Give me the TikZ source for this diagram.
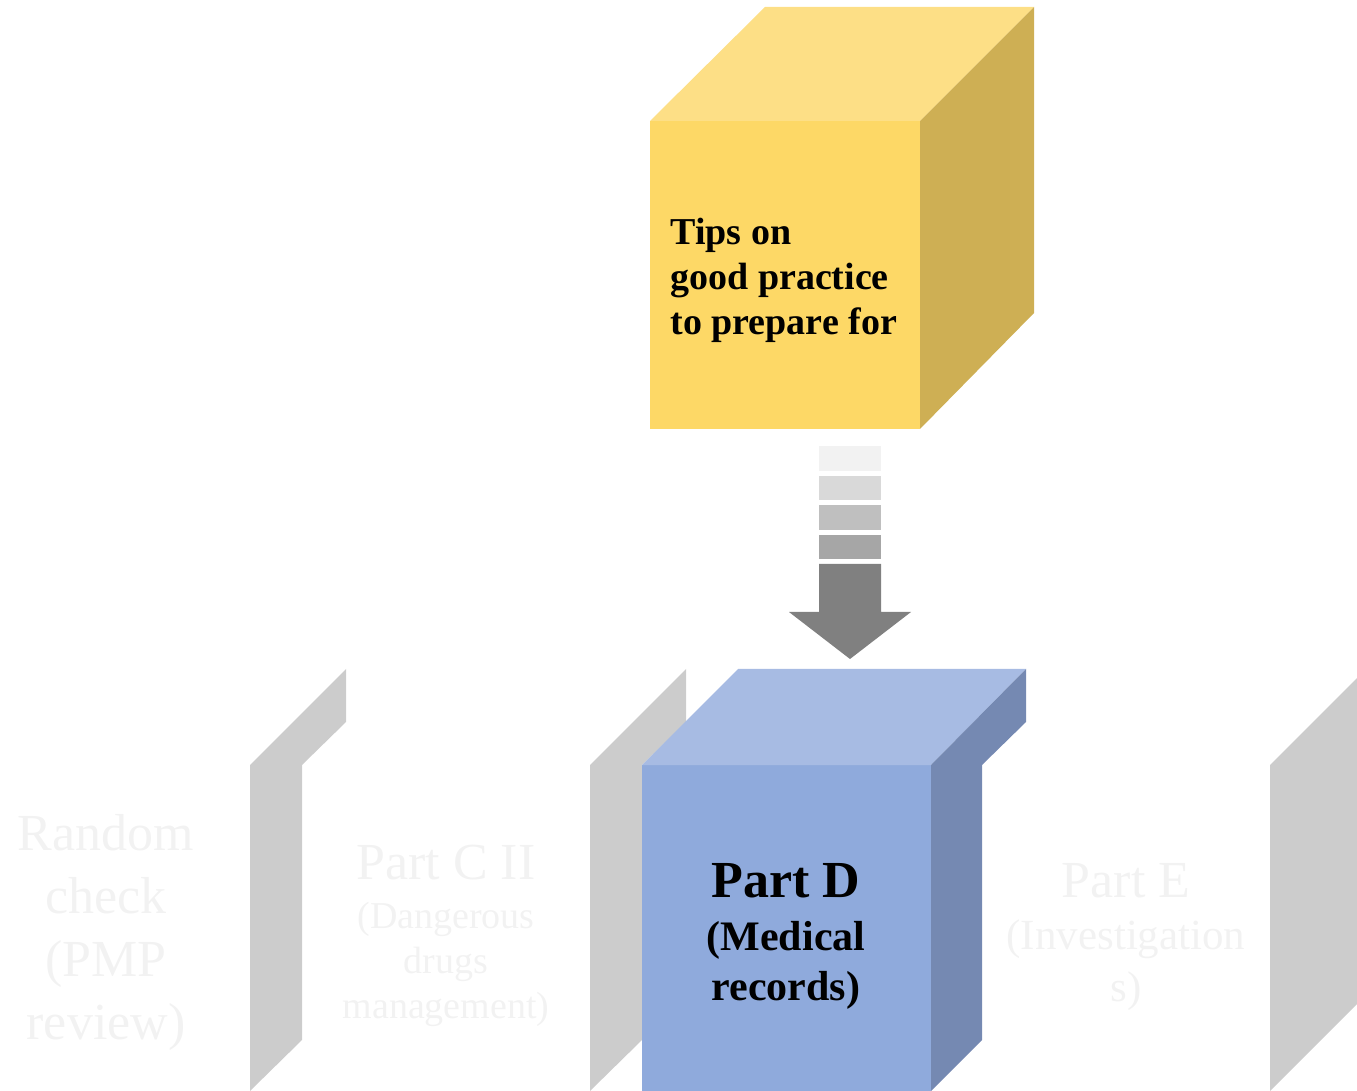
\documentclass[tikz,border=0pt]{standalone}
\usepackage{fontspec}
\setmainfont{Liberation Serif}
\definecolor{yFront}{HTML}{FDD866}
\definecolor{yTop}{HTML}{FDDF86}
\definecolor{ySide}{HTML}{CEAF54}
\definecolor{dFront}{HTML}{8FAADC}
\definecolor{dTop}{HTML}{A7BBE3}
\definecolor{dSide}{HTML}{7589B2}
\definecolor{sideGray}{HTML}{CCCCCC}
\definecolor{faintText}{HTML}{F2F2F2}
\definecolor{arrA}{HTML}{F2F2F2}
\definecolor{arrB}{HTML}{D9D9D9}
\definecolor{arrC}{HTML}{BFBFBF}
\definecolor{arrD}{HTML}{A6A6A6}
\definecolor{arrE}{HTML}{808080}
\begin{document}
\begin{tikzpicture}[x=0.5pt,y=-0.5pt,
  faint/.style={text=faintText, align=center, inner sep=0pt},
  boldtxt/.style={text=black, inner sep=0pt}]
\useasboundingbox (0,0) rectangle (1357,1091);
\clip (0,0) rectangle (1357,1091);
% gray side faces of faded cubes
\fill[sideGray] (250,765) -- (346,669) -- (346,722) -- (302,765) -- (302,1040) -- (250,1091) -- cycle;
\fill[sideGray] (590,765) -- (686,669) -- (686,722) -- (642,765) -- (642,1040) -- (590,1091) -- cycle;
\fill[sideGray] (1270,765) -- (1366,669) -- (1366,995) -- (1270,1091) -- cycle;
% Part D cube
\fill[dFront] (642,765) rectangle (931,1095);
\fill[dTop] (642,765) -- (738,669) -- (1026,669) -- (931,765) -- cycle;
\fill[dSide] (931,765) -- (1026,669) -- (1026,722) -- (982,765) -- (982,1040) -- (931,1091) -- cycle;
% Yellow cube
\fill[yFront] (650,121) rectangle (920,429);
\fill[yTop] (650,121) -- (765,7) -- (1034,7) -- (920,121) -- cycle;
\fill[ySide] (920,121) -- (1034,7) -- (1034,313) -- (920,429) -- cycle;
% striped arrow
\coordinate (arrtop) at (850,446);
\coordinate (arrtip) at (850,659);
\fill[arrA] (819,446) rectangle (881,471);
\fill[arrB] (819,476) rectangle (881,500);
\fill[arrC] (819,505) rectangle (881,530);
\fill[arrD] (819,535) rectangle (881,559);
\fill[arrE] (819,564) -- (881,564) -- (881,612) -- (911,612) -- (arrtip) -- (789,612) -- (819,612) -- cycle;
% texts
\node[boldtxt, anchor=west, align=left, font=\bfseries\fontsize{19pt}{22.5pt}\selectfont] (tips) at (670,280) {Tips on\\good practice\\to prepare for};
\node[boldtxt, align=center, font=\bfseries\fontsize{21pt}{25pt}\selectfont] (partD) at (786,936) {{\fontsize{26pt}{26pt}\selectfont Part D}\\[1.5pt](Medical\\records)};
\node[faint, font=\fontsize{26pt}{31.5pt}\selectfont] (rand) at (106,932) {Random\\check\\(PMP\\review)};
\node[faint, font=\fontsize{19pt}{22.5pt}\selectfont] (partC) at (446,936) {{\fontsize{26pt}{26pt}\selectfont Part C II}\\[2pt](Dangerous\\drugs\\management)};
\node[faint, font=\fontsize{21.5pt}{26pt}\selectfont] (partE) at (1126,937) {{\fontsize{26pt}{26pt}\selectfont Part E}\\(Investigation\\s)};
\end{tikzpicture}
\end{document}
